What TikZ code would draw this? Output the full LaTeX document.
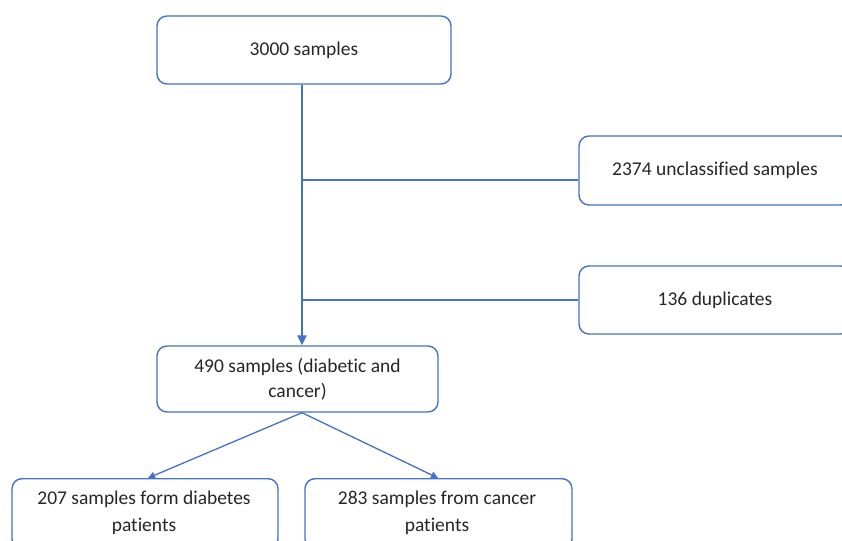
\documentclass[tikz,border=0pt]{standalone}
\usepackage{fontspec}
\setmainfont{Carlito}[Ligatures=CommonOff]
\usetikzlibrary{arrows.meta}
\definecolor{bblue}{RGB}{68,114,196}
\definecolor{tgray}{RGB}{38,38,38}
\begin{document}
\begin{tikzpicture}[x=1pt,y=-1pt,
  box/.style={draw=bblue,line width=1.4pt,rounded corners=10pt,fill=white,
    text=tgray,align=center,inner sep=0pt,font=\fontsize{19.5}{25}\selectfont},
  thin/.style={draw=bblue,line width=1.3pt},
  main/.style={draw=bblue,line width=2.8pt,-{Triangle[length=10pt,width=9pt]}},
  diag/.style={draw=bblue,line width=1.3pt,-{Triangle[length=7pt,width=7pt]}}]
\useasboundingbox (0,0) rectangle (842,540);
\clip (0,0) rectangle (842,540);
\fill[white] (0,0) rectangle (842,540);
\node[box,minimum width=294pt,minimum height=68pt] (top) at (304,50) {3000 samples};
\node[box,minimum width=272pt,minimum height=69pt] (unc) at (715,170.5) {2374 unclassified samples};
\node[box,minimum width=272pt,minimum height=68pt] (dup) at (715,300) {136 duplicates};
\node[box,minimum width=281pt,minimum height=66pt] (mid) at (297.5,379) {490 samples (diabetic and\\cancer)};
\node[box,minimum width=266pt,minimum height=70pt,anchor=north] (bl) at (145,478) {};
\node[box,minimum width=267pt,minimum height=70pt,anchor=north] (br) at (438.5,478) {};
\node[text=tgray,align=center,font=\fontsize{19.5}{27}\selectfont,anchor=north] (blt) at (144,487) {207 samples form diabetes\\patients};
\node[text=tgray,align=center,font=\fontsize{19.5}{27}\selectfont,anchor=north] (brt) at (437,487) {283 samples from cancer\\patients};
\coordinate (j1) at (302,180);
\coordinate (j2) at (302,300);
\draw[thin] (j1) -- (j1 -| unc.west);
\draw[thin] (j2) -- (j2 -| dup.west);
\draw[main] (top.south -| j1) -- (mid.north -| j1);
\draw[diag] (mid.south -| j1) -- (148,478);
\draw[diag] (mid.south -| j1) -- (438,478);
\end{tikzpicture}
\end{document}
